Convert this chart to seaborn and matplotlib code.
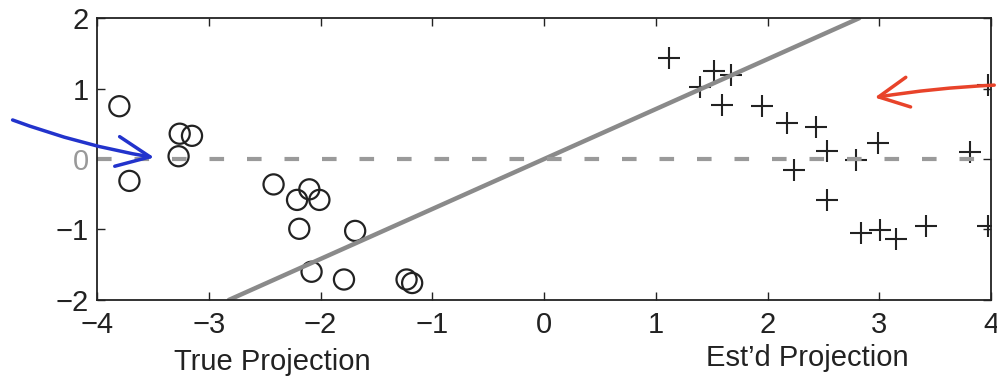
import seaborn as sns
import matplotlib.pyplot as plt
import pandas as pd

# --- Data ---
true_x = [-3.80, -3.26, -3.15, -3.27, -3.71, -2.42, -2.10, -2.21, -2.01,
          -2.19, -1.69, -2.08, -1.79, -1.23, -1.18]
true_y = [0.75, 0.36, 0.33, 0.04, -0.31, -0.36, -0.43, -0.58, -0.58,
          -0.99, -1.02, -1.60, -1.71, -1.71, -1.76]

est_x = [1.12, 1.52, 1.67, 1.40, 1.59, 1.95, 2.17, 2.43, 2.99, 2.53,
         2.79, 3.81, 2.24, 2.53, 2.84, 3.01, 3.15, 3.42, 3.97, 3.97]
est_y = [1.44, 1.25, 1.20, 1.03, 0.77, 0.75, 0.51, 0.45, 0.23, 0.12,
         -0.01, 0.10, -0.15, -0.58, -1.05, -1.01, -1.14, -0.95, -0.95, 1.05]

fit_x = [-2.82, 2.82]
fit_y = [-2.0, 2.0]
zero_x = [-4.0, 4.0]
zero_y = [0.0, 0.0]

xticks = [-4, -3, -2, -1, 0, 1, 2, 3, 4]
yticks = [-2, -1, 0, 1, 2]

sns.set_theme(style="ticks")
plt.rcParams['font.family'] = ['Liberation Sans', 'DejaVu Sans']
plt.rcParams['axes.unicode_minus'] = True

fig = plt.figure(figsize=(9.97, 3.87), dpi=100)
ax = fig.add_axes([0.0973, 0.225, 0.8967, 0.728])

df_true = pd.DataFrame({'x': true_x, 'y': true_y})
df_est = pd.DataFrame({'x': est_x, 'y': est_y})

sns.lineplot(x=fit_x, y=fit_y, ax=ax, color='#8a8a8a', linewidth=3.2)
ax.plot(zero_x, zero_y, color='#9a9a9a', linewidth=3, linestyle=(0, (3.5, 5.5)))

sns.scatterplot(data=df_true, x='x', y='y', ax=ax, marker='o', s=210,
                facecolor='none', edgecolor='#222222', linewidth=1.6)
sns.scatterplot(data=df_est, x='x', y='y', ax=ax, marker='+', s=230,
                color='#222222', linewidth=1.5)

ax.set_xlim(-4, 4)
ax.set_ylim(-2, 2)
ax.set_xticks(xticks)
ax.set_yticks(yticks)
ax.set_xlabel('')
ax.set_ylabel('')
ax.tick_params(direction='in', length=6, width=1, top=True, right=True,
               labelsize=21, pad=6, colors='#222222')
ax.tick_params(axis='x', pad=8)
for s in ax.spines.values():
    s.set_linewidth(1.3)
    s.set_color('#222222')
ax.get_yticklabels()[2].set_color('#999999')

fig.text(0.273, 0.065, 'True Projection', fontsize=21, ha='center', va='center', color='#222222')
fig.text(0.81, 0.075, "Est\u2019d Projection", fontsize=21, ha='center', va='center', color='#222222')

# hand drawn arrows
ax.annotate('', xy=(157, 229), xycoords='figure pixels', xytext=(10, 268),
            textcoords='figure pixels',
            arrowprops=dict(arrowstyle='->,head_length=2.0,head_width=0.9',
                            color='#2233cc', lw=2.5, connectionstyle='arc3,rad=0.05'),
            annotation_clip=False)
ax.annotate('', xy=(872, 289), xycoords='figure pixels', xytext=(997, 302),
            textcoords='figure pixels',
            arrowprops=dict(arrowstyle='->,head_length=1.8,head_width=0.9',
                            color='#e8432a', lw=2.5, connectionstyle='arc3,rad=0.03'),
            annotation_clip=False)

fig.savefig('out.png', dpi=100)
